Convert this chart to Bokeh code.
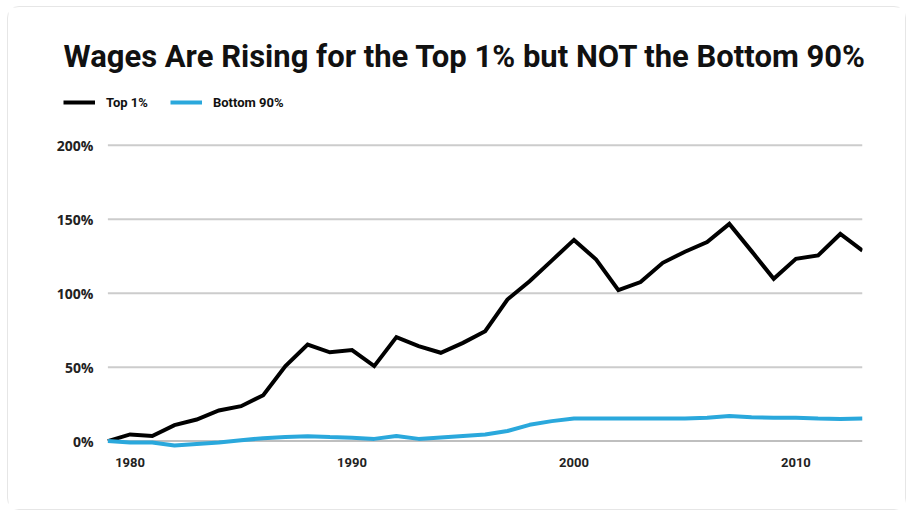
from bokeh.plotting import figure
from bokeh.models import Range1d, FixedTicker, Legend, LegendItem, CustomJSTickFormatter
from bokeh.embed import file_html
from bokeh.resources import INLINE

years = list(range(1979, 2014))
top1 = [0, 4.5, 3.5, 10.8, 14.6, 20.7, 23.6, 31, 50.7, 65.3, 60, 61.5,
        50.7, 70.3, 64.2, 59.7, 66.4, 74.3, 95.7, 108, 122, 136, 122.7, 102, 107.5,
        120.5, 128, 134.5, 146.8, 128.4, 109.7, 123.2, 125.5, 140, 128.8]
bottom90 = [0, -1, -1, -3, -2, -1, 0.5, 2, 2.7, 3.2, 2.7, 2.3,
            1.5, 3.5, 1.5, 2.5, 3.5, 4.5, 6.8, 11, 13.5, 15.3, 15.3, 15.3, 15.3,
            15.3, 15.3, 15.8, 17, 16.2, 15.8, 15.8, 15.3, 15, 15.3]
x_ticks = [1980, 1990, 2000, 2010]
y_ticks = [0, 50, 100, 150, 200]
series_names = ["Top 1%", "Bottom 90%"]
series_colors = ["#000000", "#2aa8dc"]
title_text = "Wages Are Rising for the Top 1% but NOT the Bottom 90%"

p = figure(width=899, height=504, output_backend="svg", toolbar_location=None,
           x_range=Range1d(1977.0, 2013), y_range=Range1d(-5, 239),
           min_border_left=55, min_border_right=45, min_border_top=80, min_border_bottom=63)
p.styles = {"border": "1px solid #e6e6e6", "border-radius": "12px",
            "margin-left": "7px", "margin-top": "6px"}
p.outline_line_color = None
p.background_fill_color = "white"
p.border_fill_color = "white"

p.title.text = title_text
p.title.text_font = "Roboto"
p.title.text_font_style = "bold"
p.title.text_font_size = "31px"
p.title.text_color = "#111111"
p.title.align = "left"
p.title.offset = 0
p.title.standoff = 26

# horizontal grid lines spanning the data's year extent
grid_colors = ["#aaaaaa" if t == 0 else "#cccccc" for t in y_ticks]
grid_widths = [1.5 if t == 0 else 2 for t in y_ticks]
p.segment(x0=[years[0]] * len(y_ticks), x1=[years[-1]] * len(y_ticks), y0=y_ticks, y1=y_ticks,
          line_color=grid_colors, line_width=grid_widths)

r1 = p.line(years, top1, line_color=series_colors[0], line_width=4, line_join="miter")
r2 = p.line(years, bottom90, line_color=series_colors[1], line_width=4)

p.xaxis.ticker = FixedTicker(ticks=x_ticks)
p.yaxis.ticker = FixedTicker(ticks=y_ticks)
p.yaxis.formatter = CustomJSTickFormatter(code="return tick + '%';")
for ax in (p.xaxis, p.yaxis):
    ax.axis_line_color = None
    ax.major_tick_line_color = None
    ax.minor_tick_line_color = None
    ax.major_tick_out = 0
    ax.major_tick_in = 0
    ax.major_label_text_font_style = "bold"
    ax.major_label_text_color = "#222222"
p.yaxis.major_label_text_font = "Open Sans"
p.yaxis.major_label_text_font_size = "14px"
p.yaxis.major_label_standoff = -30
p.xaxis.major_label_text_font = "Roboto"
p.xaxis.major_label_text_font_size = "13px"
p.xaxis.major_label_standoff = 9
p.grid.visible = False

legend = Legend(items=[LegendItem(label=series_names[0], renderers=[r1]),
                       LegendItem(label=series_names[1], renderers=[r2])],
                orientation="horizontal", location=(0, 336))
legend.label_text_font = "Roboto"
legend.label_text_font_style = "bold"
legend.label_text_font_size = "13px"
legend.label_text_color = "#111111"
legend.glyph_width = 32
legend.glyph_height = 14
legend.label_height = 20
legend.label_standoff = 11
legend.spacing = 22
legend.padding = 0
legend.margin = 0
legend.border_line_color = None
legend.background_fill_alpha = 0
p.add_layout(legend)

open("out.html", "w").write(file_html(p, INLINE))
